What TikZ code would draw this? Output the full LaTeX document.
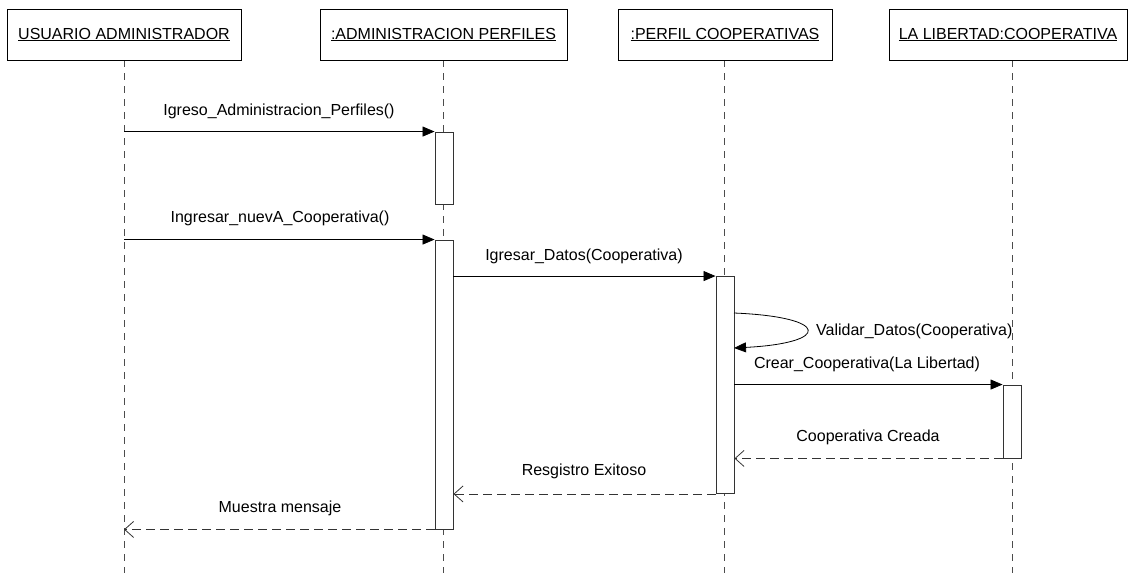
\documentclass[tikz,border=0pt]{standalone}
\usepackage{fontspec}
\setmainfont{Liberation Sans}
\usetikzlibrary{arrows.meta}
\begin{document}
\begin{tikzpicture}[x=1pt,y=-1pt,
  every node/.style={font=\fontsize{16}{19}\selectfont, inner sep=0pt},
  objbox/.style={draw=black, line width=0.8pt, fill=white, minimum height=51pt},
  lifeline/.style={draw=black!70, line width=0.9pt, dash pattern=on 7pt off 6pt},
  actbox/.style={draw=black!80, line width=0.9pt, fill=white, minimum width=18pt},
  sync/.style={draw=black, line width=0.8pt, -{Triangle[length=12pt,width=10pt]}},
  reply/.style={draw=black!80, line width=0.8pt, dash pattern=on 9pt off 5pt, -{Straight Barb[length=9pt,width=16pt,line width=0.8pt]}},
  msg/.style={anchor=base}]
\useasboundingbox (0,0) rectangle (1129,573);
% lifeline coordinates
\coordinate (t1) at (124,60);   \coordinate (b1) at (124,573);
\coordinate (t2) at (443,60);   \coordinate (b2) at (443,573);
\coordinate (t3) at (724,60);   \coordinate (b3) at (724,573);
\coordinate (t4) at (1012,60);  \coordinate (b4) at (1012,573);
\draw[lifeline] (t1) -- (b1);
\draw[lifeline] (t2) -- (b2);
\draw[lifeline] (t3) -- (b3);
\draw[lifeline] (t4) -- (b4);
% object boxes
\node[objbox, minimum width=234pt] (u) at (124,34.5) {\underline{USUARIO ADMINISTRADOR}};
\node[objbox, minimum width=247pt] (ap) at (443.5,34.5) {\underline{:ADMINISTRACION PERFILES}};
\node[objbox, minimum width=214pt] (pc) at (725,34.5) {\underline{:PERFIL COOPERATIVAS}};
\node[objbox, minimum width=238pt] (lc) at (1008,34.5) {\underline{LA LIBERTAD:COOPERATIVA}};
% activation boxes
\node[actbox, minimum height=72pt] (a1) at (444,168) {};
\node[actbox, minimum height=289pt] (a2) at (444,384.5) {};
\node[actbox, minimum height=217pt] (a3) at (725,385) {};
\node[actbox, minimum height=73pt] (a4) at (1012,421.5) {};
% messages
\draw[sync] (t1 |- a1.north) -- (a1.north west);
\node[msg] (l1) at (279,115) {Igreso\_Administracion\_Perfiles()};
\draw[sync] (t1 |- a2.north) -- (a2.north west);
\node[msg] (l2) at (280,222) {Ingresar\_nuevA\_Cooperativa()};
\draw[sync] (a2.east |- a3.north) -- (a3.north west);
\node[msg] (l3) at (584,260) {Igresar\_Datos(Cooperativa)};
% self message
\coordinate (sa) at (734,313);
\coordinate (sb) at (734,348);
\draw[sync] (sa) .. controls (831,317) and (831,343) .. (sb);
\node[msg, anchor=base west] (l4) at (816,335) {Validar\_Datos(Cooperativa)};
% create message
\draw[sync] (a3.east |- a4.north) -- (a4.north west);
\node[msg] (l5) at (867,368) {Crear\_Cooperativa(La Libertad)};
% replies
\draw[reply] (a4.south west) -- (a3.east |- a4.south);
\node[msg] (l6) at (868,441) {Cooperativa Creada};
\draw[reply] (a3.south west) -- (a2.east |- a3.south);
\node[msg] (l7) at (584,475) {Resgistro Exitoso};
\draw[reply] (a2.south west) -- (t1 |- a2.south);
\node[msg] (l8) at (280,512) {Muestra mensaje};
\end{tikzpicture}
\end{document}
